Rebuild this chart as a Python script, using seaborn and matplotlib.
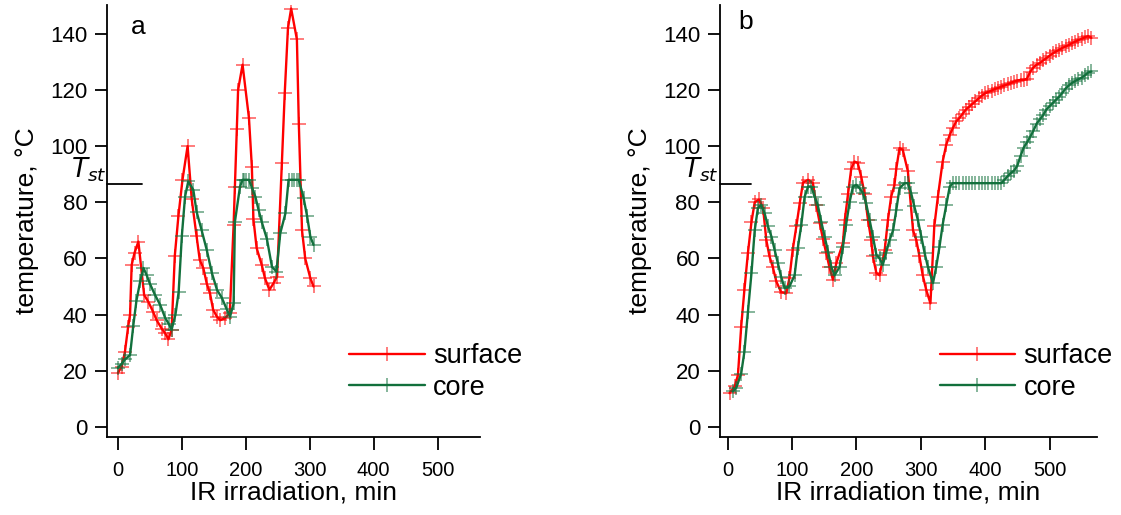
import numpy as np
import pandas as pd
import matplotlib
matplotlib.use("Agg")
import matplotlib.pyplot as plt
import seaborn as sns

# panel a: cyclic IR irradiation
a_surf_t = [0, 6, 11, 16, 19, 21.5, 26, 32, 41, 47.5, 55, 60.6, 68.5, 73.7, 79, 84, 89, 94.6, 101, 109,
            115.5, 123, 128, 133.7, 139, 144, 149, 154.7, 160, 167.7, 175, 181, 183, 186, 188, 195,
            205, 209.5, 212, 217, 225, 230, 237, 243.5, 249, 256.5, 261, 266, 271, 280, 283, 288,
            293, 301, 306]
a_surf_T = [19.2, 21.5, 26.8, 35.7, 40, 57.7, 62, 66, 47, 44.6, 41, 38, 35, 33.4, 31.2, 34.5, 61, 75,
            88, 100, 81, 68, 59.5, 56.5, 51, 47.6, 41.7, 39.3, 38, 38.7, 40.5, 72, 85.6, 106, 120, 129,
            110, 92.7, 74, 63.7, 57.7, 53, 48.8, 51.2, 53.5, 94, 119, 142, 149, 138, 108, 70,
            60, 53, 50]
a_core_t = [0, 6, 11, 19, 24, 29, 35, 40, 45, 50, 58, 66, 74, 80, 84, 90, 95, 100, 105, 110, 118,
            123, 131, 139, 147, 155, 162.5, 170, 175.5, 181, 183, 191, 195, 198, 201, 205, 210, 215,
            220, 225, 233, 241, 248, 254, 262, 267, 272, 276, 280, 283, 290.5, 296, 301, 306]
a_core_T = [21, 22.5, 24, 25.6, 36, 45, 52, 56.6, 54, 51, 47, 43.5, 38.8, 36.5, 34.6, 40, 48, 68, 82,
            87.4, 84.4, 76.7, 70, 63, 54.8, 48.8, 46, 42, 39.3, 44, 73, 85.6, 88, 88, 88, 88, 85,
            82, 77.3, 73, 67, 57, 55.3, 69, 76, 88, 88, 88, 88, 88, 81.5, 75, 67.8, 64.8]

# panel b: cycles then continuous irradiation
b_surf_t = [3, 11, 16, 21, 26, 31.5, 37, 42, 48.6, 55, 60, 65, 70, 75.6, 83, 91, 96, 101, 106.7, 112,
            117, 125, 132.5, 137.7, 143, 148, 153, 158, 163.6, 168.8, 179, 182, 187, 192, 197, 202,
            207.6, 212.7, 218, 223, 225.6, 231, 236, 244, 249, 254, 259, 262, 267, 272, 280, 288,
            293, 298, 303, 308.5, 315, 321, 326.6, 334, 339.6, 345, 350, 355, 360, 365, 370, 375,
            380, 385, 390, 395, 400, 405, 410, 415, 420, 425, 430, 435, 440, 445, 450, 455, 460,
            465, 470, 475, 480, 485, 490, 495, 500, 505, 510, 515, 520, 525, 530, 535, 540, 545,
            550, 555, 560, 565]
b_surf_T = [12, 14.4, 18.5, 35.7, 48.8, 62, 73, 80, 81, 78, 66.6, 60.7, 57, 51.8, 48, 47.6, 53, 63,
            71.4, 79.7, 87, 88, 86.8, 79, 72.6, 67, 62, 57, 52.4, 58.3, 65.4, 73.7, 83, 92, 94.5, 94,
            89, 83, 73.7, 66.6, 60.7, 54.8, 54, 63, 73.7, 82, 86, 92, 99.3, 98.7, 91, 70,
            66.6, 60.7, 54, 48.8, 44, 71.4, 82, 94.5, 100.5, 104, 106.5, 108.8, 110, 111.5, 113, 114,
            115, 116, 117, 118, 118.8, 119.3, 119.8, 120.3, 120.7, 121.2, 121.6, 122, 122.5, 123, 123.3, 123.6, 123.6,
            124, 126.5, 128, 129, 129.6, 130.5, 131.3, 132.2, 133, 133.7, 134.3, 135, 135.5, 136, 136.7, 137.2, 137.8,
            138.2, 138.8, 139.2, 138.5]
b_core_t = [8, 13.5, 21, 26, 31.5, 37, 42, 47, 52, 57.5, 62.6, 68, 73, 78, 83, 88.5, 96, 104, 109,
            114.4, 119.6, 125, 130, 135, 140, 145.5, 150.6, 156, 161, 166, 174, 179, 184, 189.4,
            194.6, 200, 205, 210, 215, 220.5, 225.6, 231, 236, 241, 246, 251.6, 257, 262, 267, 275,
            280, 285, 290, 295.5, 300.8, 306, 311, 319, 324, 329, 334, 339.6, 345, 350, 355, 360,
            365, 370, 375, 380, 385, 390, 395, 400, 405, 410, 415, 420, 425, 430, 435, 440, 445, 450,
            455, 460, 465, 470, 475, 480, 485, 490, 495, 500, 505, 510, 515, 520, 525, 530, 535,
            540, 545, 550, 555, 560, 565]
b_core_T = [12.6, 14, 19, 26.8, 41, 54.8, 70, 78, 79, 76, 71.4, 67.8, 63, 58.3, 53.5, 49.4, 50, 54,
            63.7, 72, 82, 85.6, 85.6, 82, 79, 73, 67.8, 62.4, 57, 54, 57, 64, 72, 80, 85.6, 86.2, 85,
            83.3, 79.7, 73.7, 67.8, 61.3, 60, 57.7, 61.9, 66.6, 70, 77.3, 85, 86.8, 86.8, 83.3, 78.5,
            73.7, 67.8, 61.9, 57, 51.2, 57, 64, 72, 79, 85.6, 86.8, 86.8, 86.8, 86.8, 86.8, 86.8,
            86.8, 86.8, 86.8, 86.8, 86.8, 86.8, 86.8, 86.8, 86.8, 86.8, 88, 89.3, 90.4, 91.3, 93,
            96.5, 99.5, 101.3, 103.3, 105.5, 108, 109.5, 111, 113, 114.2, 115.3, 116.5, 117.6, 119,
            120.5, 121.6, 122.5, 123.2, 123.8, 124.4, 125.2, 126.2, 126.6]

T_ST = 86.5
RED = "#ff0000"
GREEN = "#12703c"
RED_MK = (1.0, 0.0, 0.0, 0.65)
GREEN_MK = (0.07, 0.44, 0.24, 0.65)

sns.set_style("ticks")
plt.rcParams["font.family"] = ["Liberation Sans", "DejaVu Sans"]
plt.rcParams.update({
    "text.color": "black",
    "axes.labelcolor": "black",
    "axes.edgecolor": "black",
    "xtick.color": "black",
    "ytick.color": "black",
})

fig = plt.figure(figsize=(11.21, 5.15), dpi=100)
ax_a = fig.add_axes([0.0955, 0.1515, 0.333, 0.839])
ax_b = fig.add_axes([0.642, 0.1515, 0.337, 0.839])


def draw_panel(ax, surf_t, surf_T, core_t, core_T, xlim, letter, xlabel, leg_x):
    series = [(surf_t, surf_T, RED, RED_MK, "surface"), (core_t, core_T, GREEN, GREEN_MK, "core")]
    for t, T, col, mk, name in series:
        df = pd.DataFrame({"time": t, "temp": T})
        sns.lineplot(data=df, x="time", y="temp", ax=ax, color=col, sort=False,
                     estimator=None, marker="+", markersize=10, markeredgewidth=1.1,
                     markeredgecolor=mk, linewidth=1.7, label=name)
    ax.set_xlim(*xlim)
    ax.set_ylim(-3.6, 150.3)
    ax.set_xticks([0, 100, 200, 300, 400, 500])
    ax.set_yticks([0, 20, 40, 60, 80, 100, 120, 140])
    sns.despine(ax=ax)
    for s in ["left", "bottom"]:
        ax.spines[s].set_linewidth(1.3)
        ax.spines[s].set_color("black")
    ax.tick_params(direction="out", length=9, width=1.3, colors="black")
    ax.tick_params(axis="y", labelsize=16, pad=5)
    ax.tick_params(axis="x", labelsize=14.5, pad=8)
    ax.set_xlabel(xlabel, fontsize=19, labelpad=1)
    ax.set_ylabel("temperature, °C", fontsize=19, labelpad=8)

    # T_st marker line and label
    ax.plot([xlim[0], 37], [T_ST, T_ST], color="black", linewidth=1.3, clip_on=False)
    ax.text(-0.002, 91.5, r"$T_{st}$", transform=ax.get_yaxis_transform(),
            ha="right", va="center", fontsize=19)
    ax.text(letter[1], letter[2], letter[0], transform=ax.transAxes,
            fontsize=19, ha="center", va="center")

    ax.legend(loc="center left", bbox_to_anchor=(leg_x, 0.15), frameon=False,
              fontsize=19.5, handlelength=2.8, handletextpad=0.3, labelspacing=0.2,
              borderaxespad=0, borderpad=0)


draw_panel(ax_a, a_surf_t, a_surf_T, a_core_t, a_core_T, (-17, 567),
           ("a", 0.083, 0.949), "IR irradiation, min", 0.649)
draw_panel(ax_b, b_surf_t, b_surf_T, b_core_t, b_core_T, (-12.4, 574.5),
           ("b", 0.069, 0.96), "IR irradiation time, min", 0.582)

fig.savefig("out.png", dpi=100)
